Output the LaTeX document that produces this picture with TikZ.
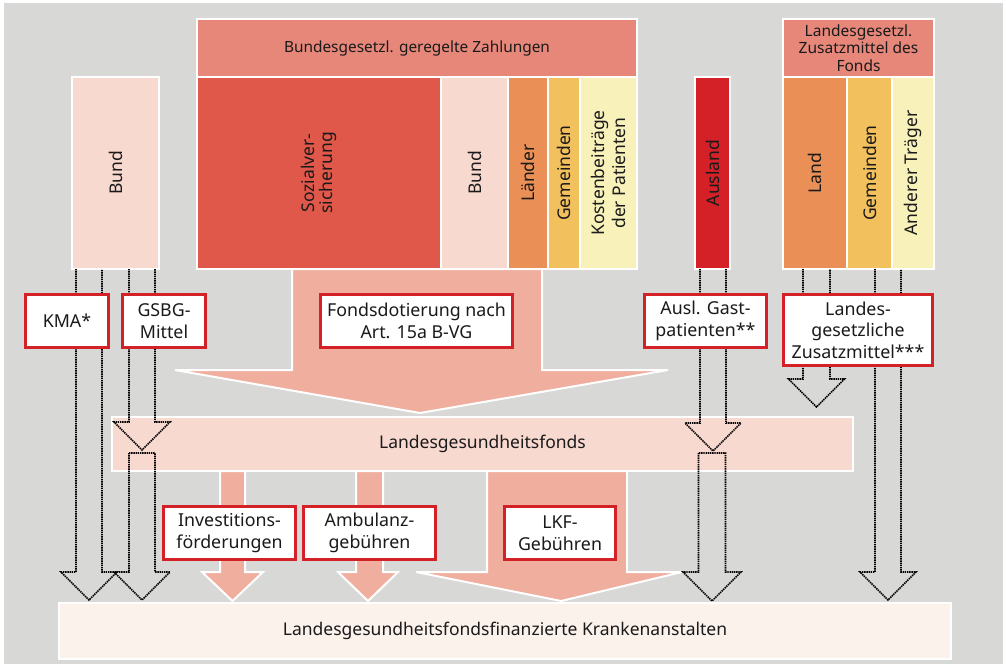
\documentclass[tikz,border=0pt]{standalone}
\usepackage{fontspec}
\setmainfont{Noto Sans}
\definecolor{bggray}{HTML}{D8D8D7}
\definecolor{pinkL}{HTML}{F8D9CF}
\definecolor{hdr}{HTML}{E6877A}
\definecolor{sozial}{HTML}{E0584A}
\definecolor{orangeC}{HTML}{EA8F55}
\definecolor{yellowC}{HTML}{F2C05C}
\definecolor{paleY}{HTML}{F8F1BA}
\definecolor{redC}{HTML}{D42027}
\definecolor{salmon}{HTML}{F0AE9E}
\definecolor{cream}{HTML}{FCF2EC}
\definecolor{txtc}{HTML}{1A1A1A}
\newcommand\blk[8]{%
  \path[cb,#2] (#4,#5) rectangle (#6,#7);
  \node[txt,#3] (#1) at ({(#4+#6)/2},{(#5+#7)/2}) {#8};}
\newcommand\lab[6]{%
  \draw[lbl] ({#2+1.5},{#3+1.5}) rectangle ({#4-1.5},{#5-1.5});
  \node[lbltxt] (#1) at ({(#2+#4)/2},{(#3+#5)/2}) {#6};}
% open-top dotted block arrow: xc, half shaft, ytop, ybase, half head
\newcommand\dopen[5]{%
  \draw[dots] ({#1-#2},#3) -- ({#1-#2},#4) -- ({#1-#5},#4) -- (#1,{#4+#5}) -- ({#1+#5},#4) -- ({#1+#2},#4) -- ({#1+#2},#3);}
\newcommand\dclosed[5]{%
  \draw[dots] ({#1-#2},#3) -- ({#1-#2},#4) -- ({#1-#5},#4) -- (#1,{#4+#5}) -- ({#1+#5},#4) -- ({#1+#2},#4) -- ({#1+#2},#3) -- cycle;}
\begin{document}
\begin{tikzpicture}[x=1pt,y=-1pt,
  cb/.style={draw=white,line width=2pt},
  txt/.style={text=txtc,align=center,inner sep=0pt,font=\fontsize{17.5}{19.5}\selectfont},
  vert/.style={rotate=90},
  lbl/.style={draw=redC,fill=white,line width=3pt},
  lbltxt/.style={text=txtc,align=center,inner sep=0pt,font=\fontsize{17.8}{21.5}\selectfont},
  dots/.style={draw=black,line width=1.6pt,dash pattern=on 1.4pt off 0.8pt},
  barrow/.style={fill=salmon,draw=white,line width=2pt,line join=miter}]
\useasboundingbox (0,0) rectangle (1006,665);
\fill[white] (0,0) rectangle (1006,665);
\fill[bggray] (4,3) rectangle (1003,664);

% big arrow Fondsdotierung
\draw[barrow] (292,269) -- (292,370) -- (175,370) -- (420,413) -- (668,370) -- (542,370) -- (542,269) -- cycle;
% small arrows out of the fund
\draw[barrow] (220,471) -- (220,572) -- (202,572) -- (232.5,601) -- (263,572) -- (245,572) -- (245,471) -- cycle;
\draw[barrow] (356,471) -- (356,572) -- (338,572) -- (368,601) -- (398,572) -- (383,572) -- (383,471) -- cycle;
\draw[barrow] (487,471) -- (487,572) -- (416,572) -- (561,601) -- (682,572) -- (627,572) -- (627,471) -- cycle;

% top blocks
\blk{bundL}{fill=pinkL}{vert}{72}{77}{159}{269}{Bund}
\blk{hdrA}{fill=hdr}{font=\fontsize{15.4}{17}\selectfont}{197}{19}{637}{77}{Bundesgesetzl. geregelte Zahlungen}
\blk{sozial}{fill=sozial}{vert,font=\fontsize{17.5}{18.5}\selectfont}{197}{77}{441}{269}{Sozialver-\\sicherung}
\blk{bundM}{fill=pinkL}{vert}{441}{77}{508}{269}{Bund}
\blk{laender}{fill=orangeC}{vert}{508}{77}{548}{269}{Länder}
\blk{gemM}{fill=yellowC}{vert}{548}{77}{580}{269}{Gemeinden}
\blk{kosten}{fill=paleY}{vert,font=\fontsize{17.5}{20.5}\selectfont}{580}{77}{637}{269}{Kostenbeiträge\\der Patienten}
\blk{ausland}{fill=redC}{vert}{695}{77}{730}{269}{Ausland}
\blk{hdrB}{fill=hdr}{font=\fontsize{15.5}{17.5}\selectfont}{783}{19}{934}{77}{Landesgesetzl.\\Zusatzmittel des\\Fonds}
\blk{land}{fill=orangeC}{vert}{783}{77}{847}{269}{Land}
\blk{gemR}{fill=yellowC}{vert}{847}{77}{892}{269}{Gemeinden}
\blk{anderer}{fill=paleY}{vert}{892}{77}{934}{269}{Anderer Träger}

% fund and hospitals
\blk{fonds}{fill=pinkL}{}{112}{417}{853}{471}{Landesgesundheitsfonds}
\blk{kh}{fill=cream}{}{59}{603}{951}{659}{Landesgesundheitsfondsfinanzierte Krankenanstalten}

% dotted block arrows
\dopen{89}{13}{269}{572}{28}
\dopen{142}{13}{269}{422}{28}
\dclosed{142}{13}{453}{572}{28}
\dopen{713}{13}{269}{423}{28}
\dclosed{712}{13.5}{453}{572}{29}
\dopen{816.5}{13.5}{269}{379}{28}
\dopen{888}{13}{269}{572}{28}

% label boxes
\lab{kma}{24}{293}{110}{349}{KMA*}
\lab{gsbg}{121}{293}{207}{349}{GSBG-\\Mittel}
\lab{fdot}{319}{293}{514}{349}{Fondsdotierung nach\\Art. 15a B-VG}
\lab{ausl}{643}{293}{768}{349}{Ausl. Gast-\\patienten**}
\lab{lzus}{782}{293}{934}{367}{Landes-\\gesetzliche\\Zusatzmittel***}
\lab{inv}{162}{505}{297}{561}{Investitions-\\förderungen}
\lab{amb}{302}{505}{437}{561}{Ambulanz-\\gebühren}
\lab{lkf}{503}{505}{617}{561}{LKF-\\Gebühren}
\end{tikzpicture}
\end{document}
